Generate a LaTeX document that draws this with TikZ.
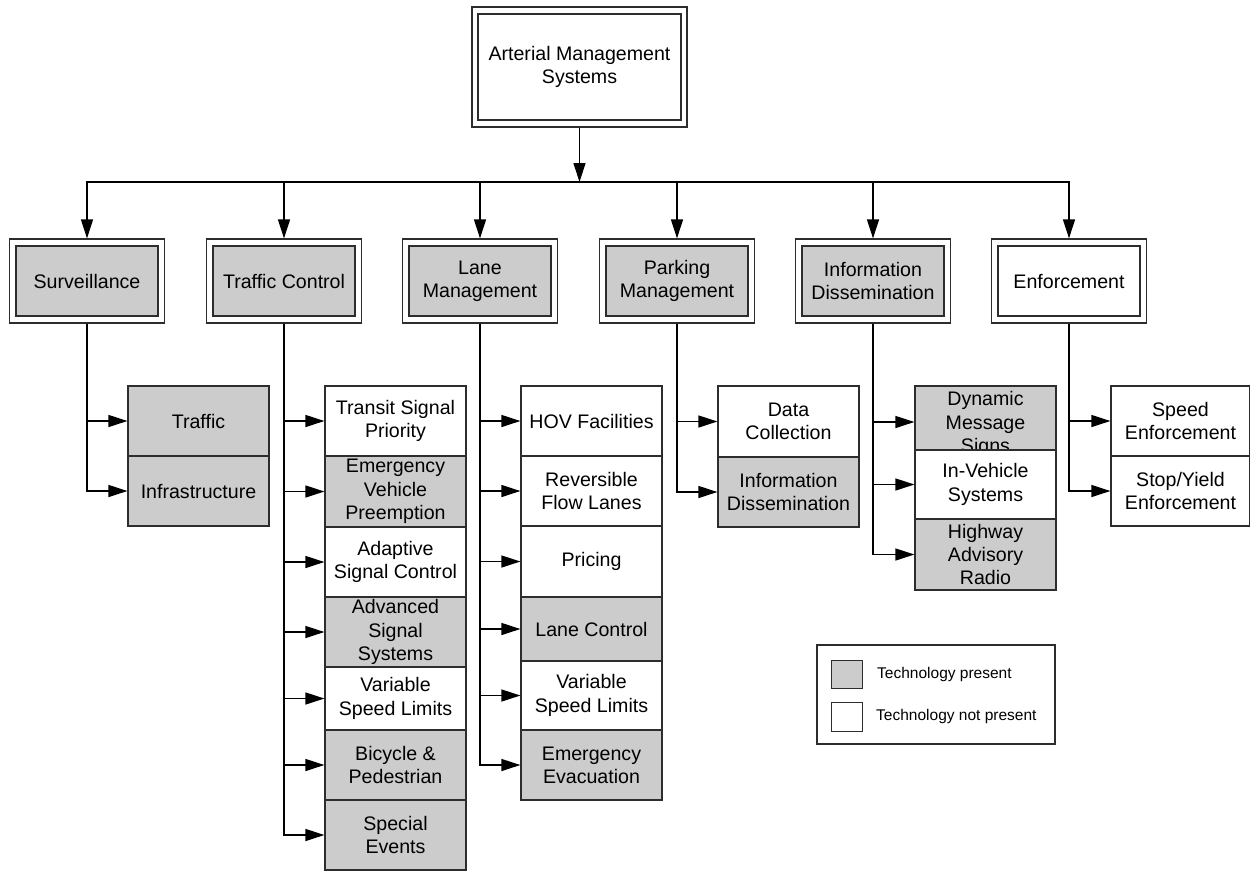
\documentclass[tikz,border=0pt]{standalone}
\usepackage{fontspec}
\setmainfont{Liberation Sans}
\usetikzlibrary{arrows.meta}
\definecolor{boxgray}{RGB}{204,204,204}
\definecolor{edgecol}{RGB}{45,45,45}
\tikzset{
  txt/.style={font=\fontsize{19.6}{23.3}\selectfont, align=center, inner sep=0pt},
  box/.style={txt, draw=edgecol, line width=1.2pt, minimum width=141pt, minimum height=70pt},
  gbox/.style={box, fill=boxgray},
  wbox/.style={box, fill=white},
  outerbox/.style={draw=edgecol, line width=1.2pt, fill=white, minimum width=155pt, minimum height=84pt, inner sep=0pt},
  ginner/.style={gbox, minimum width=142pt, minimum height=70pt},
  winner/.style={wbox, minimum width=142pt, minimum height=70pt},
  conn/.style={line width=1.3pt, draw=black},
  arr/.style={conn, -{Triangle[length=19pt,width=12pt]}},
  legtxt/.style={font=\fontsize{15.5}{18}\selectfont, inner sep=0pt},
  legsq/.style={draw=edgecol, line width=1pt, minimum width=31pt, inner sep=0pt},
}
\begin{document}
\begin{tikzpicture}[x=1pt,y=-1pt]
\useasboundingbox[fill=white] (0,0) rectangle (1250,871);

% top
\node[outerbox, minimum width=215pt, minimum height=120pt] (top) at (579.5,67) {};
\node[winner, minimum width=203pt, minimum height=106pt] (topin) at (579.5,67) {Arterial Management\\Systems};

% categories
\node[outerbox] (surv) at (87,281) {};
\node[ginner] (survin) at (87,281) {Surveillance};
\node[outerbox] (tc) at (284,281) {};
\node[ginner] (tcin) at (284,281) {Traffic Control};
\node[outerbox] (lane) at (480,281) {};
\node[ginner] (lanein) at (480,281) {Lane\\Management};
\node[outerbox] (park) at (677,281) {};
\node[ginner] (parkin) at (677,281) {Parking\\Management};
\node[outerbox] (info) at (873,281) {};
\node[ginner] (infoin) at (873,281) {Information\\Dissemination};
\node[outerbox] (enf) at (1069,281) {};
\node[winner] (enfin) at (1069,281) {Enforcement};

% surveillance children
\node[gbox] (traf) at (198.5,421) {Traffic};
\node[gbox] (infra) at (198.5,491) {Infrastructure};

% traffic control children
\node[wbox] (tsp) at (395.5,421) {Transit Signal\\Priority};
\node[gbox, minimum height=71pt] (evp) at (395.5,491.5) {Emergency\\Vehicle\\Preemption};
\node[wbox] (asc) at (395.5,562) {Adaptive\\Signal Control};
\node[gbox] (ass) at (395.5,632) {Advanced\\Signal\\Systems};
\node[wbox, minimum height=63pt] (vsl) at (395.5,698.5) {Variable\\Speed Limits};
\node[gbox] (bp) at (395.5,765) {Bicycle \&\\Pedestrian};
\node[gbox] (se) at (395.5,835) {Special\\Events};

% lane management children
\node[wbox] (hov) at (591.5,421) {HOV Facilities};
\node[wbox] (rfl) at (591.5,491) {Reversible\\Flow Lanes};
\node[wbox, minimum height=71pt] (pr) at (591.5,561.5) {Pricing};
\node[gbox, minimum height=64pt] (lc) at (591.5,629) {Lane Control};
\node[wbox, minimum height=69pt] (vslb) at (591.5,695.5) {Variable\\Speed Limits};
\node[gbox] (ee) at (591.5,765) {Emergency\\Evacuation};

% parking children
\node[wbox, minimum height=71pt] (dc) at (788.5,421.5) {Data\\Collection};
\node[gbox] (idp) at (788.5,492) {Information\\Dissemination};

% information dissemination children
\node[gbox, minimum height=64pt] (dms) at (985.5,418) {};
\node[txt] (dmstext) at (985.5,424) {Dynamic\\Message\\Signs};
\node[wbox, minimum height=69pt] (ivs) at (985.5,484.5) {In-Vehicle\\Systems};
\node[gbox, minimum height=71pt] (har) at (985.5,554.5) {Highway\\Advisory\\Radio};

% enforcement children
\node[wbox, minimum width=139pt] (spd) at (1180.5,421) {Speed\\Enforcement};
\node[wbox, minimum width=139pt] (syd) at (1180.5,491) {Stop/Yield\\Enforcement};

% connectors
\coordinate (hub) at (579.5,182);
\draw[arr] (top.south) -- (hub);
\draw[arr] (hub) -| (surv.north);
\draw[arr] (hub) -| (enf.north);
\foreach \n in {tc,lane,park,info} \draw[arr] (hub -| \n.north) -- (\n.north);

\foreach \c in {traf,infra} \draw[arr] (surv.south) |- (\c.west);
\foreach \c in {tsp,evp,asc,ass,vsl,bp,se} \draw[arr] (tc.south) |- (\c.west);
\foreach \c in {hov,rfl,pr,lc,vslb,ee} \draw[arr] (lane.south) |- (\c.west);
\foreach \c in {dc,idp} \draw[arr] (park.south) |- (\c.west);
\draw[arr] (info.south) |- ([yshift=-4pt]dms.west);
\foreach \c in {ivs,har} \draw[arr] (info.south) |- (\c.west);
\foreach \c in {spd,syd} \draw[arr] (enf.south) |- (\c.west);

% legend
\node[draw=edgecol, line width=1.2pt, minimum width=238pt, minimum height=99pt, inner sep=0pt] (legend) at (936,694.5) {};
\node[legsq, fill=boxgray, minimum height=28pt] (lgsq) at (846.5,674) {};
\node[legsq, fill=white, minimum height=29pt] (lwsq) at (846.5,716.5) {};
\node[legtxt, anchor=base west] (lgt) at (877,678) {Technology present};
\node[legtxt, anchor=base west] (lwt) at (876,720) {Technology not present};
\end{tikzpicture}
\end{document}
